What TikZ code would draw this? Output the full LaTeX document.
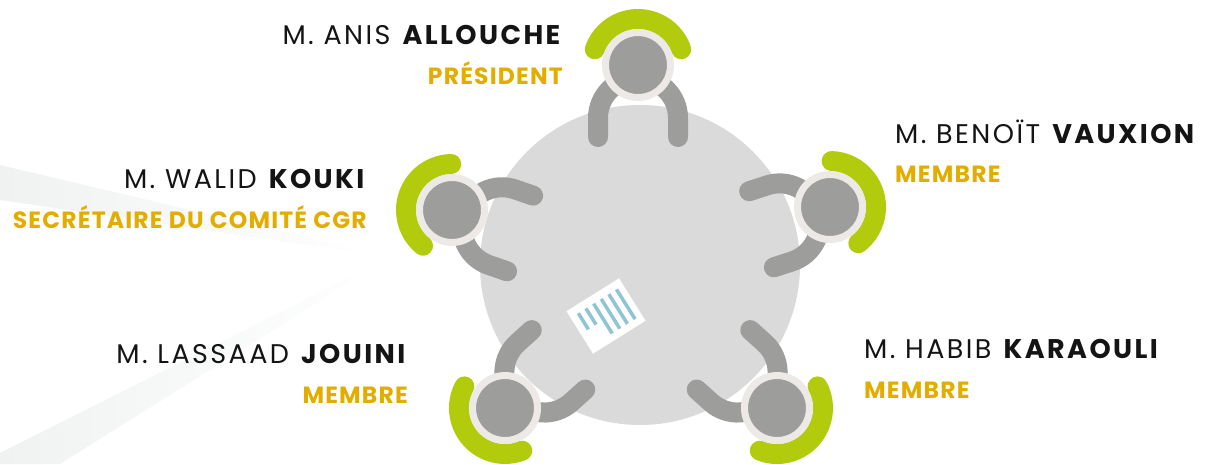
\documentclass[tikz,border=0pt]{standalone}
\usepackage{fontspec}
\setmainfont{Poppins}
\newfontfamily\namefont{Poppins}[LetterSpace=9]
\newfontfamily\rolefont{Poppins}[LetterSpace=5]
\usetikzlibrary{positioning}
\definecolor{tablegray}{HTML}{DADADA}
\definecolor{armgray}{HTML}{9D9D9C}
\definecolor{ringwhite}{HTML}{EDE9E7}
\definecolor{seatgreen}{HTML}{B2CB0D}
\definecolor{rolegold}{HTML}{E3AD00}
\definecolor{docblue}{HTML}{8FC4D4}
\definecolor{raygray}{HTML}{F0F2F2}

\tikzset{
	membername/.style={font=\namefont\fontsize{27}{32}\selectfont, text=black!92, inner sep=0pt},
	memberrole/.style={font=\rolefont\fontsize{23.5}{28}\selectfont\bfseries, text=rolegold, inner sep=0pt},
	arm/.style={draw=armgray, line width=20pt, line cap=round},
	seat/.style={draw=seatgreen, line width=20pt, line cap=round},
	headnode/.style={circle, fill=armgray, draw=ringwhite, line width=7pt, minimum size=65pt, inner sep=0pt},
	docline/.style={draw=docblue, line width=3.5pt},
}

\begin{document}
\begin{tikzpicture}[x=1pt,y=1pt]
			\useasboundingbox (0,0) rectangle (1218,-464);
			% faint rays on the left
			\shade[left color=raygray, right color=white] (390,-257) -- (0,-200) -- (0,-165) -- cycle;
			\shade[left color=raygray, right color=white] (390,-257) -- (0,-453) -- (0,-464) -- (60,-464) -- cycle;
			% table and paper
			\node[circle, fill=tablegray, minimum size=320pt, inner sep=0pt] (table) at (640,-265) {};
			\node[fill=white, minimum width=62pt, minimum height=50pt, rotate=32, inner sep=0pt] (paper) at (606,-316) {};
			\begin{scope}[shift={(paper.center)}, rotate=32]
				\foreach \lx/\lb in {-22/-2,-13/-2,-4/-18,5/-18,14/-18,23/-18}
					\draw[docline] (\lx,17) -- (\lx,\lb);
			\end{scope}
			% members around the table
			\foreach \px/\py/\face/\who in {638/65/-90/allouche, 830/207/198/vauxion, 452/210/-19/kouki, 505/408/42/jouini, 777/408/138/karaouli} {
				\begin{scope}[shift={(\px,-\py)}, rotate=\face+90]
					\draw[arm] (-40,-72) -- (-40,-53) arc[start angle=180, end angle=0, radius=40] -- (40,-72);
					\draw[seat] (20:46) arc[start angle=20, end angle=160, radius=46];
					\node[headnode] (head-\who) at (0,0) {};
				\end{scope}
			}
			% names and roles
			\node[membername, anchor=base east] (name-allouche) at (563,-44) {M. ANIS \textbf{ALLOUCHE}};
			\node[memberrole, anchor=base east] (role-allouche) at (563,-84) {PRÉSIDENT};
			\node[membername, anchor=base west] (name-vauxion) at (895,-143) {M. BENOÏT \textbf{VAUXION}};
			\node[memberrole, anchor=base west] (role-vauxion) at (895,-182) {MEMBRE};
			\node[membername, anchor=base east] (name-kouki) at (367,-188) {M. WALID \textbf{KOUKI}};
			\node[memberrole, anchor=base east] (role-kouki) at (367,-228) {SECRÉTAIRE DU COMITÉ CGR};
			\node[membername, anchor=base east] (name-jouini) at (408,-363) {M. LASSAAD \textbf{JOUINI}};
			\node[memberrole, anchor=base east] (role-jouini) at (408,-403) {MEMBRE};
			\node[membername, anchor=base west] (name-karaouli) at (864,-358) {M. HABIB \textbf{KARAOULI}};
			\node[memberrole, anchor=base west] (role-karaouli) at (864,-398) {MEMBRE};
		\end{tikzpicture}
\end{document}
